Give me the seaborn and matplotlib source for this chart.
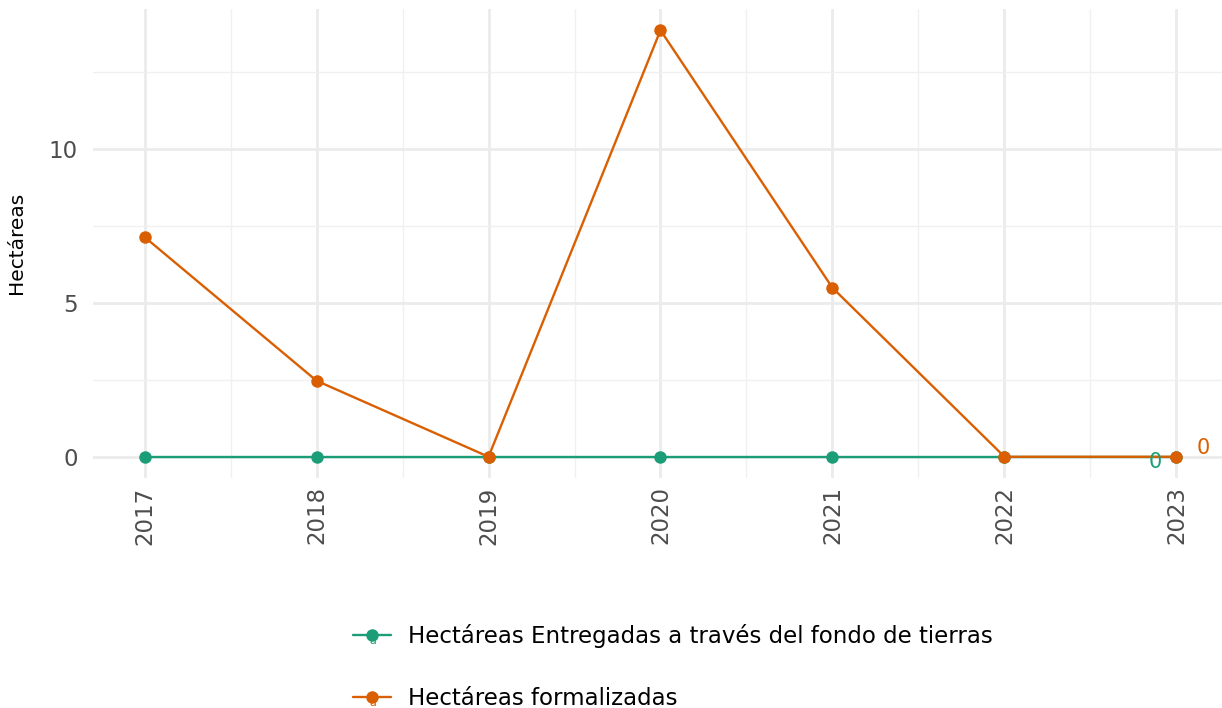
import numpy as np
import pandas as pd
import matplotlib
matplotlib.use("Agg")
import matplotlib.pyplot as plt
import seaborn as sns
from matplotlib.lines import Line2D
from matplotlib.legend_handler import HandlerLine2D
from matplotlib.text import Text
from matplotlib.ticker import MultipleLocator

years = [2017, 2018, 2019, 2020, 2021, 2022, 2023]
entregadas = [0, 0, 0, 0, 0, 0, 0]
formalizadas = [7.14, 2.47, 0, 13.86, 5.49, 0, 0]
series_names = ["Hectáreas Entregadas a través del fondo de tierras", "Hectáreas formalizadas"]
colors = ["#1B9E77", "#D95F02"]
last_labels = ["0", "0"]

df = pd.DataFrame({
    "year": years * 2,
    "value": entregadas + formalizadas,
    "serie": [series_names[0]] * len(years) + [series_names[1]] * len(years),
})

sns.set_theme(style="whitegrid")
plt.rcParams["font.family"] = ["DejaVu Sans"]

fig = plt.figure(figsize=(12.22, 7.08), dpi=100)
W, H = 1222, 708
ax = fig.add_axes([93 / W, (H - 478) / H, (1228 - 93) / W, (478 - 9) / H])
ax.set_facecolor("white")

sns.lineplot(data=df, x="year", y="value", hue="serie", hue_order=series_names,
             palette=colors, marker="o", markersize=9, markeredgewidth=0,
             linewidth=1.7, ax=ax, legend=False)

ax.set_xlim(2016.7, 2023.3)
ax.set_ylim(-0.69, 14.55)
ax.xaxis.set_major_locator(MultipleLocator(1))
ax.xaxis.set_minor_locator(MultipleLocator(0.5))
ax.yaxis.set_major_locator(MultipleLocator(5))
ax.yaxis.set_minor_locator(MultipleLocator(2.5))
ax.grid(which="major", color="#EBEBEB", linewidth=2.0)
ax.grid(which="minor", color="#F0F0F0", linewidth=1.0)
ax.set_axisbelow(True)
for s in ax.spines.values():
    s.set_visible(False)
ax.tick_params(axis="both", which="both", length=0, labelsize=16.5, labelcolor="#4D4D4D")
ax.tick_params(axis="y", pad=11)
ax.tick_params(axis="x", pad=6)
ax.set_xticks(years)
ax.set_xticklabels([str(y) for y in years], rotation=90)
ax.set_xlabel("")
ax.set_ylabel("Hectáreas", fontsize=14.5, color="black")
ax.yaxis.set_label_coords(-0.059, 0.501)

# end labels
ax.annotate(last_labels[0], (years[-1], entregadas[-1]), xytext=(-15, -3.5),
            textcoords="offset points", ha="center", va="center",
            fontsize=15, color=colors[0])
ax.annotate(last_labels[1], (years[-1], formalizadas[-1]), xytext=(19, 6.5),
            textcoords="offset points", ha="center", va="center",
            fontsize=15, color=colors[1])


class HandlerWithA(HandlerLine2D):
    def create_artists(self, legend, orig_handle, xdescent, ydescent, width, height, fontsize, trans):
        arts = super().create_artists(legend, orig_handle, xdescent, ydescent, width, height, fontsize, trans)
        t = Text(width / 2 - xdescent, height / 2 - ydescent - 4, "a", color=orig_handle.get_color(),
                 fontsize=8, ha="center", va="center", transform=trans)
        return [t] + list(arts)


handles = [Line2D([], [], color=c, marker="o", markersize=9, markeredgewidth=0, linewidth=1.7)
           for c in colors]
leg = fig.legend(handles, series_names, loc="upper left", bbox_to_anchor=(342 / W, 1 - 613 / H),
                 frameon=False, fontsize=16.5, labelspacing=1.7, handlelength=1.65,
                 handletextpad=0.75, borderpad=0,
                 handler_map={Line2D: HandlerWithA()})
for t in leg.get_texts():
    t.set_color("black")

fig.savefig("out.png", dpi=100, facecolor="white")
